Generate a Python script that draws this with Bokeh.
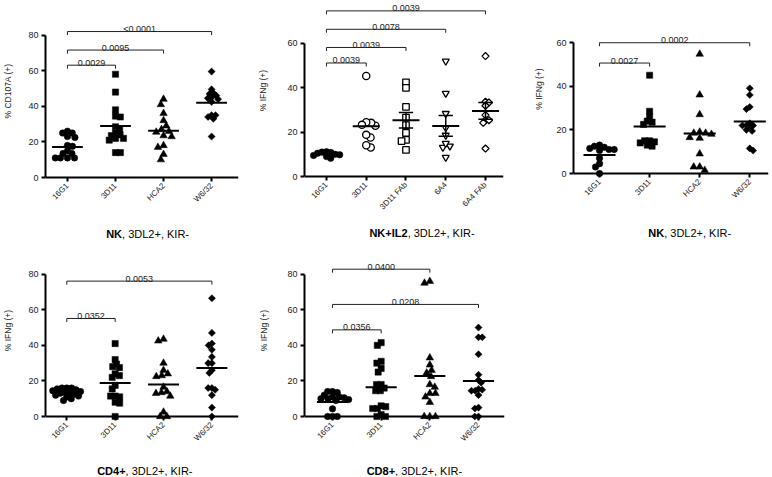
import math
from bokeh.plotting import figure
from bokeh.layouts import row, column
from bokeh.models import Range1d, FixedTicker, Span, ColumnDataSource
from bokeh.embed import file_html
from bokeh.resources import INLINE
from bokeh.core.properties import value

FONT = "Liberation Sans"
INK = "#1a1a1a"

# ---------------- data ----------------
cats_a = ["16G1", "3D11", "HCA2", "W6/32"]
cats_b = ["16G1", "3D11", "3D11 FAb", "6A4", "6A4 FAb"]

# Panel 1 : NK, 3DL2+, KIR-  (% CD107A)
p1_16G1 = [26, 25, 23, 22.5, 25, 17.5, 18, 15, 13.5, 13.5, 11, 11, 11, 11]
p1_3D11 = [58, 48, 38, 34, 34.5, 28.5, 27, 25, 24, 22, 21, 22, 23.5, 14, 14]
p1_HCA2 = [44, 41, 36, 32, 29, 26, 25.5, 27, 23.5, 23, 18, 17, 13, 10]
p1_W632 = [59.5, 49.5, 47.5, 47, 46, 45, 44.5, 44, 42.5, 35, 34, 33, 35, 23]
p1_means = [17.2, 29.0, 26.2, 42.0]
p1_pvals = ["0.0029", "0.0095", "<0.0001"]
p1_pairs = [(0, 1), (0, 2), (0, 3)]
p1_levels = [63.1, 71.6, 82.0]

# Panel 2 : NK+IL2, 3DL2+, KIR-  (% IFNg)
p2_16G1 = [11.2, 11, 10.8, 10.5, 10, 9.8, 9.5, 9, 8.2]
p2_3D11 = [45.3, 22.9, 24.2, 24.5, 23.3, 17.6, 18.8, 13.1, 14.1]
p2_3D11F = [42.5, 40, 31.4, 26.6, 23.2, 19.7, 16.5, 16, 12]
p2_6A4 = [52, 37.5, 28.4, 22, 18.6, 13.7, 13.1, 14.9, 8.6]
p2_6A4F = [54.3, 33.7, 33.4, 31.9, 27.7, 25.4, 24.2, 25.4, 12.6]
p2_means = [10.0, 22.7, 25.4, 22.8, 29.6]
p2_sem = [None, None, 3.5, 4.7, 3.8]
p2_pvals = ["0.0039", "0.0039", "0.0078", "0.0039"]
p2_pairs = [(0, 1), (0, 2), (0, 3), (0, 4)]
p2_levels = [51.2, 58.2, 66.4, 74.7]

# Panel 3 : NK, 3DL2+, KIR-  (% IFNg)
p3_16G1 = [13, 12.5, 12, 11.5, 11, 11, 10.5, 7, 4.5, 3, 0]
p3_3D11 = [45, 28.5, 26, 24, 23.5, 22.5, 15, 15, 13, 12.5, 14.5, 14]
p3_HCA2 = [54.7, 36, 27, 18.5, 18, 18.5, 19, 16.5, 16.2, 9, 3, 3, 1.5]
p3_W632 = [39, 36, 29.5, 30.5, 23, 22, 21, 22, 22, 19.5, 20, 10.5, 11.5]
p3_means = [8.5, 21.5, 18.3, 23.8]
p3_pvals = ["0.0027", "0.0002"]
p3_pairs = [(0, 1), (0, 3)]
p3_levels = [50.6, 59.9]

# Panel 4 : CD4+, 3DL2+, KIR-  (% IFNg)
p4_16G1 = [16, 16, 15.5, 16, 15, 14.5, 14, 13.5, 13.5, 13, 12.5, 12, 11.5, 11, 10, 9]
p4_3D11 = [41, 32, 29.5, 28, 27.5, 24, 22, 23, 17.5, 15.5, 11.5, 11, 11.5, 8, 7.5, 0]
p4_HCA2 = [43.5, 42.5, 30, 26, 23, 24, 22.5, 16.5, 14, 13.5, 13, 11.5, 2.5, 0, 0]
p4_W632 = [66.5, 47, 40, 41, 37.5, 33.5, 30, 30, 26, 24.5, 16, 12, 15, 16, 5, 0]
p4_means = [13.5, 18.9, 18.0, 27.3]
p4_pvals = ["0.0352", "0.0053"]
p4_pairs = [(0, 1), (0, 3)]
p4_levels = [55.1, 76.1]

# Panel 5 : CD8+, 3DL2+, KIR-  (% IFNg)
p5_16G1 = [14, 14, 13.5, 12, 11, 11, 10.5, 10, 10, 9.5, 9, 4.3, 0, 0, 0]
p5_3D11 = [41.5, 40, 31, 30, 27, 25, 18, 18, 16, 14.5, 14.5, 6, 5.5, 4.5, 4.5, 1, 0, 0]
p5_HCA2 = [76, 75, 33, 29, 26, 24.5, 22.5, 18, 16.5, 13, 13, 11, 8, 0, 0, 0]
p5_W632 = [50, 44.5, 44.5, 35, 23.5, 20.5, 19, 15.5, 15, 14.5, 14.5, 12, 5, 4.5, 0, 0]
p5_means = [8.2, 16.5, 22.7, 19.9]
p5_pvals = ["0.0356", "0.0208", "0.0400"]
p5_pairs = [(0, 1), (0, 3), (0, 2)]
p5_levels = [48.7, 63.0, 82.8]

# ---------------- helpers ----------------
REG_W = {' ': 278, ',': 278, '+': 584, '-': 333, '2': 556, '3': 556, 'D': 722,
         'I': 278, 'K': 667, 'L': 556, 'R': 722}
BOLD_W = {'N': 722, 'K': 722, '+': 584, 'I': 278, 'L': 611, '2': 556, 'C': 722,
          'D': 722, '4': 556, '8': 556}


def text_w(s, table, size):
    return sum(table.get(c, 556) for c in s) / 1000.0 * size


def swarm(vals, k, spacing, d):
    """Beeswarm offsets (category units) so that markers barely overlap."""
    placed = []
    out = [0.0] * len(vals)
    order = sorted(range(len(vals)), key=lambda i: -vals[i])
    for n, i in enumerate(order):
        y = vals[i] * k
        cands = [0.0]
        for xp, yp in placed:
            dy = abs(y - yp)
            if dy < d:
                dx = math.sqrt(d * d - dy * dy)
                cands += [xp + dx, xp - dx]
        sgn = 1 if n % 2 == 0 else -1
        cands.sort(key=lambda c: (round(abs(c), 3), -sgn * c))
        for c in cands:
            if all((c - xp) ** 2 + (y - yp) ** 2 >= d * d - 1e-6 for xp, yp in placed):
                out[i] = c / spacing
                placed.append((c, y))
                break
    return out


STYLE_FILLED = [
    dict(marker="circle", size=6.5, angle=0.0),
    dict(marker="square", size=6.2, angle=0.0),
    dict(marker="triangle", size=7.5, angle=0.0),
    dict(marker="square", size=5.0, angle=math.pi / 4),
]
STYLE_B = [
    dict(marker="circle", size=6.5, angle=0.0, open=False),
    dict(marker="circle", size=7.2, angle=0.0, open=True),
    dict(marker="square", size=6.5, angle=0.0, open=True),
    dict(marker="inverted_triangle", size=7.0, angle=0.0, open=True),
    dict(marker="square", size=5.0, angle=math.pi / 4, open=True),
]


def make_panel(fig_w, fig_h, border_l, border_r, zero_y, k, lo, hi, cats,
               yticks, ylabel, series, means, pairs, levels, pvals, styles,
               label_gap=12, sems=None, half=0.32, overlap=0.8):
    pad = 4
    frame_h = zero_y + pad
    p = figure(width=fig_w, height=fig_h,
               x_range=Range1d(lo, hi),
               y_range=Range1d(-pad / k, zero_y / k),
               output_backend="svg", toolbar_location=None,
               min_border_left=border_l, min_border_right=border_r,
               min_border_top=0, min_border_bottom=fig_h - frame_h)
    p.outline_line_color = None
    p.xgrid.visible = False
    p.ygrid.visible = False
    p.background_fill_color = "white"
    p.border_fill_color = "white"

    spacing = (fig_w - border_l - border_r) / (hi - lo)

    # y axis
    ya = p.yaxis[0]
    ya.ticker = FixedTicker(ticks=yticks)
    ya.bounds = (0, yticks[-1])
    ya.axis_line_width = 2
    ya.axis_line_color = "black"
    ya.major_tick_line_width = 2
    ya.major_tick_line_color = "black"
    ya.major_tick_out = 4
    ya.major_tick_in = 0
    ya.minor_tick_line_color = None
    ya.major_label_text_font = FONT
    ya.major_label_text_font_size = "9px"
    ya.major_label_text_color = INK
    ya.major_label_standoff = 3
    ya.axis_label = ylabel
    ya.axis_label_text_font = FONT
    ya.axis_label_text_font_size = "8.5px"
    ya.axis_label_text_font_style = "normal"
    ya.axis_label_text_color = INK
    ya.axis_label_standoff = label_gap

    # x axis (its line is drawn at y = 0 as a span)
    xa = p.xaxis[0]
    xa.ticker = FixedTicker(ticks=list(range(len(cats))))
    xa.major_label_overrides = {i: c for i, c in enumerate(cats)}
    xa.axis_line_color = None
    xa.major_tick_in = pad
    xa.major_tick_out = 0
    xa.major_tick_line_width = 2
    xa.major_tick_line_color = "black"
    xa.minor_tick_line_color = None
    xa.major_label_orientation = math.pi / 4
    xa.major_label_standoff = 3
    xa.major_label_text_font = FONT
    xa.major_label_text_font_size = "8px"
    xa.major_label_text_color = INK
    p.add_layout(Span(location=0, dimension="width", line_color="black", line_width=2))

    # points
    for i, vals in enumerate(series):
        st = styles[i]
        offs = swarm(vals, k, spacing, st["size"] * overlap)
        src = ColumnDataSource(dict(x=[i + o for o in offs], y=vals))
        if st.get("open"):
            p.scatter("x", "y", source=src, marker=st["marker"], size=st["size"],
                      angle=st["angle"], fill_color="white", line_color="black",
                      line_width=1.3)
        else:
            p.scatter("x", "y", source=src, marker=st["marker"], size=st["size"],
                      angle=st["angle"], fill_color="black", line_color="black",
                      line_width=0.5)

    # means (and SEM where shown)
    idx = list(range(len(means)))
    p.segment(x0=[i - half for i in idx], x1=[i + half for i in idx],
              y0=means, y1=means, line_color="black", line_width=2)
    if sems is not None:
        ex, elo, ehi, cx0, cx1, cy = [], [], [], [], [], []
        for i, (m, s) in enumerate(zip(means, sems)):
            if s is None:
                continue
            ex.append(i); elo.append(m - s); ehi.append(m + s)
            for yy in (m - s, m + s):
                cx0.append(i - 0.18); cx1.append(i + 0.18); cy.append(yy)
        p.segment(x0=ex, x1=ex, y0=elo, y1=ehi, line_color="black", line_width=1.5)
        p.segment(x0=cx0, x1=cx1, y0=cy, y1=cy, line_color="black", line_width=1.5)

    # significance brackets
    tick = 3.5 / k
    xs, ys = [], []
    for (a, b), lv in zip(pairs, levels):
        xs.append([a, a, b, b])
        ys.append([lv - tick, lv, lv, lv - tick])
    p.multi_line(xs=xs, ys=ys, line_color="#222222", line_width=1)
    p.text(x=[(a + b) / 2 for a, b in pairs], y=[lv + 2.5 / k for lv in levels],
           text=pvals, text_align="center", text_baseline="alphabetic",
           text_font=value(FONT), text_font_size="9px", text_color=INK)
    return p


def make_caption(width, height, center_x, base_y, t_bold, t_rest):
    """A strip under a panel holding its caption: bold part + regular part."""
    c = figure(width=width, height=height, x_range=Range1d(0, width),
               y_range=Range1d(0, height), output_backend="svg",
               toolbar_location=None, min_border=0,
               x_axis_type=None, y_axis_type=None)
    c.outline_line_color = None
    c.grid.visible = False
    c.background_fill_color = "white"
    c.border_fill_color = "white"
    fs = 11
    wb = text_w(t_bold, BOLD_W, fs)
    wr = text_w(t_rest, REG_W, fs)
    split = center_x - (wb + wr) / 2 + wb
    c.text(x=[split], y=[base_y], text=[t_bold], text_align="right",
           text_baseline="alphabetic", text_font=value(FONT),
           text_font_size=f"{fs}px", text_font_style="bold", text_color="black")
    c.text(x=[split], y=[base_y], text=[t_rest], text_align="left",
           text_baseline="alphabetic", text_font=value(FONT),
           text_font_size=f"{fs}px", text_color="black")
    return c


# row 1 (panels 218 px tall + 22 px captions)
p1 = make_panel(250, 218, 42, 12, 177, 1.78, -0.457, 3.56, cats_a, [0, 20, 40, 60, 80],
                "% CD107A (+)", [p1_16G1, p1_3D11, p1_HCA2, p1_W632], p1_means,
                p1_pairs, p1_levels, p1_pvals, STYLE_FILLED, label_gap=12)
c1 = make_caption(250, 22, 124.7, 7, "NK", ", 3DL2+, KIR-")

p2 = make_panel(265, 218, 54, 12, 176, 2.217, -0.553, 4.453, cats_b, [0, 20, 40, 60],
                "% IFNg (+)", [p2_16G1, p2_3D11, p2_3D11F, p2_6A4, p2_6A4F], p2_means,
                p2_pairs, p2_levels, p2_pvals, STYLE_B, label_gap=16, sems=p2_sem,
                half=0.34, overlap=0.7)
c2 = make_caption(265, 22, 151.7, 8, "NK+IL2", ", 3DL2+, KIR-")

p3 = make_panel(257, 218, 58, 4, 173, 2.183, -0.52, 3.374, cats_a, [0, 20, 40, 60],
                "% IFNg (+)", [p3_16G1, p3_3D11, p3_HCA2, p3_W632], p3_means,
                p3_pairs, p3_levels, p3_pvals, STYLE_FILLED, label_gap=9)
c3 = make_caption(257, 22, 145, 8, "NK", ", 3DL2+, KIR-")

# row 2 (panels 214 px tall + 22 px captions)
p4 = make_panel(250, 214, 42, 12, 176, 1.779, -0.44, 3.55, cats_a, [0, 20, 40, 60, 80],
                "% IFNg (+)", [p4_16G1, p4_3D11, p4_HCA2, p4_W632], p4_means,
                p4_pairs, p4_levels, p4_pvals, STYLE_FILLED, label_gap=12, overlap=0.75)
c4 = make_caption(250, 22, 123, 6, "CD4+", ", 3DL2+, KIR-")

p5 = make_panel(265, 214, 54, 11, 176, 1.779, -0.575, 3.534, cats_a, [0, 20, 40, 60, 80],
                "% IFNg (+)", [p5_16G1, p5_3D11, p5_HCA2, p5_W632], p5_means,
                p5_pairs, p5_levels, p5_pvals, STYLE_FILLED, label_gap=15, overlap=0.75)
c5 = make_caption(265, 22, 139.3, 6, "CD8+", ", 3DL2+, KIR-")

layout = column(row(column(p1, c1), column(p2, c2), column(p3, c3)),
                row(column(p4, c4), column(p5, c5)))

open("out.html", "w").write(file_html(layout, INLINE))
